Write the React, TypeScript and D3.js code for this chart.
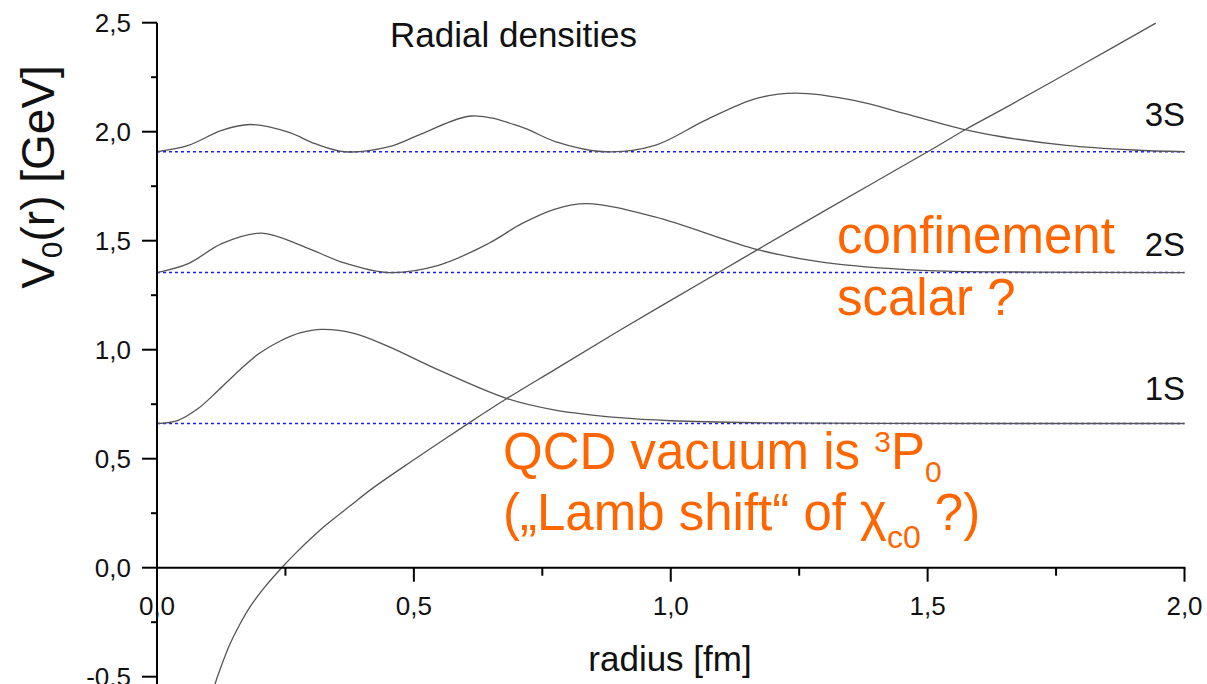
import React from "react";
import * as d3 from "d3";

// ---- data ----
const xTickValues = [0, 0.5, 1.0, 1.5, 2.0];
const xMinorTicks = [0.25, 0.75, 1.25, 1.75];
const yTickValues = [-0.5, 0, 0.5, 1.0, 1.5, 2.0, 2.5];
const yMinorTicks = [-0.75, -0.25, 0.25, 0.75, 1.25, 1.75, 2.25];

const levelNames = ["1S", "2S", "3S"];
const levelEnergies = [0.6615, 1.354, 1.908];

// confining potential V0(r) [GeV] vs r [fm]
const potential: [number, number][] = [
  [0.105, -0.6], [0.113, -0.533], [0.125, -0.452], [0.142, -0.35], [0.16, -0.265],
  [0.181, -0.18], [0.21, -0.088], [0.2427, 0.0], [0.27, 0.067], [0.3, 0.135],
  [0.33, 0.198], [0.376, 0.284], [0.42, 0.365], [0.5, 0.495], [0.606, 0.662],
  [0.681, 0.776], [0.775, 0.91], [0.9, 1.088], [1.093, 1.354], [1.169, 1.459],
  [1.3, 1.638], [1.5, 1.908], [1.573, 2.009], [1.65, 2.108], [1.8, 2.306],
  [1.944, 2.498],
];

// radial densities, drawn on top of their level
const density1S: [number, number][] = [
  [0, 0.6615], [0.04, 0.675], [0.08, 0.73], [0.12, 0.815], [0.16, 0.905],
  [0.2, 0.985], [0.24, 1.04], [0.28, 1.078], [0.3206, 1.093], [0.385, 1.074],
  [0.45, 1.015], [0.55, 0.905], [0.681, 0.776], [0.775, 0.723], [0.9, 0.688],
  [1.0, 0.674], [1.164, 0.665], [1.4, 0.662], [2.0, 0.6615],
];
const density2S: [number, number][] = [
  [0, 1.354], [0.061, 1.395], [0.126, 1.487], [0.2037, 1.535], [0.288, 1.471],
  [0.3595, 1.402], [0.45, 1.354], [0.5476, 1.387], [0.645, 1.487], [0.71, 1.578],
  [0.775, 1.645], [0.836, 1.67], [0.969, 1.609], [1.169, 1.459], [1.294, 1.402],
  [1.488, 1.364], [1.7, 1.356], [2.0, 1.354],
];
const density3S: [number, number][] = [
  [0, 1.908], [0.061, 1.937], [0.126, 2.006], [0.181, 2.033], [0.2556, 1.998],
  [0.3075, 1.945], [0.366, 1.908], [0.45, 1.93], [0.515, 1.99], [0.6125, 2.072],
  [0.71, 2.021], [0.775, 1.955], [0.872, 1.908], [0.969, 1.937], [1.067, 2.052],
  [1.164, 2.151], [1.242, 2.177], [1.359, 2.143], [1.456, 2.083], [1.573, 2.009],
  [1.641, 1.978], [1.77, 1.937], [1.9, 1.916], [2.0, 1.908],
];
const densities = [density1S, density2S, density3S];

export default function App() {
  const W = 1207;
  const H = 684;
  const font = "'Liberation Sans', Arial, Helvetica, sans-serif";
  const orange = "#ff6600";

  const x = d3.scaleLinear().domain([0, 2]).range([157, 1184.5]);
  const y = d3.scaleLinear().domain([0, 2.5]).range([567.7, 22.7]);
  const line = d3
    .line<[number, number]>()
    .x((d) => x(d[0]))
    .y((d) => y(d[1]))
    .curve(d3.curveCatmullRom.alpha(0.5));
  const fmt = (v: number) =>
    d3.format(".1f")(v).replace(".", ",").replace("\u2212", "-");

  const y0 = y(0);
  const xAxisX = x(0);
  const labelBaselineOffsets = [23, 17, 26];

  return (
    <div style={{ position: "fixed", left: 0, top: 0, width: W, height: H, background: "#fff" }}>
      <svg width={W} height={H} viewBox={`0 0 ${W} ${H}`} style={{ display: "block", fontFamily: font }}>
        <rect x={0} y={0} width={W} height={H} fill="#fff" />

        {/* energy levels (dotted) */}
        {levelEnergies.map((e, i) => (
          <line
            key={"lvl" + i}
            x1={x(0)}
            x2={x(2)}
            y1={y(e)}
            y2={y(e)}
            stroke="#1a1aff"
            strokeWidth={1.5}
            strokeDasharray="3 3"
          />
        ))}

        {/* densities */}
        {densities.map((d, i) => (
          <path key={"den" + i} d={line(d) || ""} fill="none" stroke="#555" strokeWidth={1.3} />
        ))}

        {/* potential */}
        <path d={line(potential) || ""} fill="none" stroke="#555" strokeWidth={1.3} />

        {/* axes */}
        <line x1={xAxisX} x2={xAxisX} y1={y(2.5)} y2={H} stroke="#000" strokeWidth={2} />
        <line x1={x(0) - 1} x2={x(2) + 1} y1={y0} y2={y0} stroke="#000" strokeWidth={2} />

        {yTickValues.map((v) => (
          <g key={"yt" + v}>
            <line x1={xAxisX - 15} x2={xAxisX} y1={y(v)} y2={y(v)} stroke="#000" strokeWidth={2} />
            <text x={131} y={y(v) + 9} textAnchor="end" fontSize={26} fill="#111">
              {fmt(v)}
            </text>
          </g>
        ))}
        {yMinorTicks.map((v) => (
          <line key={"ym" + v} x1={xAxisX - 6} x2={xAxisX} y1={y(v)} y2={y(v)} stroke="#000" strokeWidth={2} />
        ))}

        {xTickValues.map((v) => (
          <g key={"xt" + v}>
            <line x1={x(v)} x2={x(v)} y1={y0} y2={y0 + 14} stroke="#000" strokeWidth={2} />
            <text x={x(v)} y={615} textAnchor="middle" fontSize={26} fill="#111">
              {fmt(v)}
            </text>
          </g>
        ))}
        {xMinorTicks.map((v) => (
          <line key={"xm" + v} x1={x(v)} x2={x(v)} y1={y0} y2={y0 + 8} stroke="#000" strokeWidth={2} />
        ))}

        {/* titles */}
        <text x={390} y={47} fontSize={35} fill="#111">
          Radial densities
        </text>
        <text x={670} y={671} textAnchor="middle" fontSize={35} fill="#111">
          radius [fm]
        </text>
        <text
          transform={`translate(54, 177) rotate(-90)`}
          textAnchor="middle"
          fontSize={46}
          fill="#111"
        >
          V<tspan fontSize={30} dy={8}>0</tspan>
          <tspan dy={-8}>(r) [GeV]</tspan>
        </text>

        {/* level labels */}
        {levelNames.map((n, i) => (
          <text
            key={"ln" + n}
            x={1185}
            y={y(levelEnergies[i]) - labelBaselineOffsets[i]}
            textAnchor="end"
            fontSize={33}
            fill="#111"
          >
            {n}
          </text>
        ))}

        {/* orange annotations */}
        <text x={837} y={253} fontSize={51} fill={orange}>
          confinement
        </text>
        <text x={837} y={315} fontSize={51} fill={orange}>
          scalar ?
        </text>
        <text x={503} y={469} fontSize={51} fill={orange}>
          QCD vacuum is <tspan fontSize={30} dy={-17}>3</tspan>
          <tspan dy={17}>P</tspan>
          <tspan fontSize={30} dy={13}>0</tspan>
        </text>
        <text x={503} y={530} fontSize={51} fill={orange}>
          („Lamb shift“ of <tspan>χ</tspan>
          <tspan fontSize={32} dy={18}>c0</tspan>
          <tspan dy={-18}> ?)</tspan>
        </text>
      </svg>
    </div>
  );
}
